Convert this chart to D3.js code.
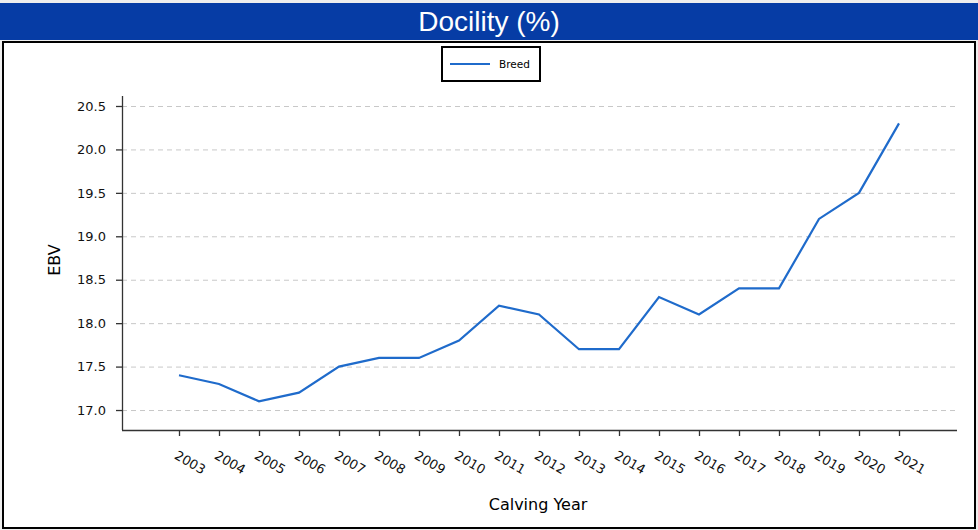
<!DOCTYPE html>
<html>
<head>
<meta charset="utf-8">
<script src="https://cdn.jsdelivr.net/npm/d3@7"></script>
<style>
  body { margin: 0; background: #eeeeee; }
  svg { display: block; }
</style>
</head>
<body>
<div id="chart"></div>
<script>
// calving years and breed EBV trend
const years = [2003, 2004, 2005, 2006, 2007, 2008, 2009, 2010, 2011, 2012,
  2013, 2014, 2015, 2016, 2017, 2018, 2019, 2020, 2021];
const breedEbv = [17.4, 17.3, 17.1, 17.2, 17.5, 17.6, 17.6, 17.8, 18.2, 18.1,
  17.7, 17.7, 18.3, 18.1, 18.4, 18.4, 19.2, 19.5, 20.3];
const yTicks = [17.0, 17.5, 18.0, 18.5, 19.0, 19.5, 20.0, 20.5];
const seriesName = "Breed";

const W = 978, H = 530;
const margin = {top: 96, right: 21, bottom: 100, left: 122};
const width = W - margin.left - margin.right;
const height = H - margin.top - margin.bottom;

const svg = d3.select("#chart").append("svg")
    .attr("width", W).attr("height", H);

// title bar
svg.append("rect").attr("x", 0).attr("y", 3).attr("width", W).attr("height", 37)
    .attr("fill", "#063ca5");
svg.append("text")
    .attr("x", W / 2).attr("y", 31)
    .attr("text-anchor", "middle")
    .attr("fill", "#ffffff")
    .style("font-family", "'Liberation Sans', Arial, sans-serif")
    .style("font-size", "28px")
    .text("Docility (%)");

// chart frame
svg.append("rect").attr("x", 3).attr("y", 42).attr("width", 972).attr("height", 486)
    .attr("fill", "#ffffff").attr("stroke", "#000").attr("stroke-width", 2);

const xScale = d3.scaleLinear().domain([2001.575, 2022.45]).range([0, width]);
const yScale = d3.scaleLinear().domain([16.77, 20.615]).range([height, 0]);

const g = svg.append("g")
    .attr("transform", "translate(" + margin.left + "," + margin.top + ")");

// grid
g.append("g").selectAll("line").data(yTicks).enter().append("line")
    .attr("x1", 0).attr("x2", width)
    .attr("y1", d => yScale(d) + 0.5).attr("y2", d => yScale(d) + 0.5)
    .attr("stroke", "#c8c8c8").attr("stroke-width", 1)
    .attr("stroke-dasharray", "5,4");

const font = "'DejaVu Sans', sans-serif";

const yAxis = g.append("g")
    .call(d3.axisLeft(yScale).tickValues(yTicks).tickFormat(d3.format(".1f")).tickSize(6).tickPadding(10));
const xAxis = g.append("g")
    .attr("transform", "translate(0," + height + ")")
    .call(d3.axisBottom(xScale).tickValues(years).tickFormat(d3.format("d")).tickSize(6));

[xAxis, yAxis].forEach(a => {
  a.select(".domain").attr("stroke", "#333").attr("stroke-width", 1.3);
  a.selectAll(".tick line").attr("stroke", "#333").attr("stroke-width", 1.3);
  a.selectAll("text").style("font-family", font).style("font-size", "13px").attr("fill", "#111");
});
// close the domain ends (no outer ticks)
yAxis.select(".domain").attr("d", "M0.5," + height + "V0");
xAxis.select(".domain").attr("d", "M0,0.5H" + width);

xAxis.selectAll(".tick text")
    .attr("text-anchor", "start")
    .attr("y", 0)
    .attr("dy", 0)
    .attr("transform", "translate(-6,28) rotate(30)");

// line
g.append("path")
    .datum(years.map((y, i) => [y, breedEbv[i]]))
    .attr("fill", "none")
    .attr("stroke", "#1f6bcb")
    .attr("stroke-width", 2.2)
    .attr("d", d3.line().x(d => xScale(d[0])).y(d => yScale(d[1])));

// axis labels
svg.append("text")
    .attr("x", 538).attr("y", 510)
    .attr("text-anchor", "middle")
    .style("font-family", font).style("font-size", "16px")
    .text("Calving Year");
svg.append("text")
    .attr("transform", "translate(60," + (margin.top + height / 2 - 3) + ") rotate(-90)")
    .attr("text-anchor", "middle")
    .style("font-family", font).style("font-size", "16px")
    .text("EBV");

// legend
const lg = svg.append("g").attr("transform", "translate(442,47)");
lg.append("rect").attr("width", 98).attr("height", 34)
    .attr("fill", "#fff").attr("stroke", "#000").attr("stroke-width", 2);
lg.append("line").attr("x1", 8).attr("x2", 48).attr("y1", 17).attr("y2", 17)
    .attr("stroke", "#1f6bcb").attr("stroke-width", 2.2);
lg.append("text").attr("x", 57).attr("y", 21)
    .style("font-family", font).style("font-size", "10.5px")
    .text(seriesName);
</script>
</body>
</html>
